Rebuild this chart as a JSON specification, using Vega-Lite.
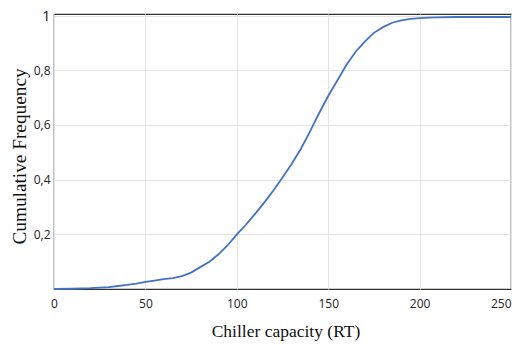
{
  "$schema": "https://vega.github.io/schema/vega-lite/v6.json",
  "width": 457,
  "height": 275,
  "autosize": {"type": "none"},
  "padding": {"left": 54, "top": 14, "right": 9, "bottom": 56},
  "background": "white",
  "config": {
    "view": {"stroke": "#333333", "strokeWidth": 1.2},
    "axis": {
      "labelFont": "Open Sans",
      "labelFontSize": 12,
      "labelColor": "#222222",
      "titleFont": "Liberation Serif",
      "titleFontSize": 17,
      "titleFontWeight": "normal",
      "titleColor": "#111111",
      "gridColor": "#e3e3e3",
      "gridWidth": 1,
      "ticks": false,
      "domain": false
    }
  },
  "data": {
    "values": [
      {"capacity": 0, "freq": 0},
      {"capacity": 10, "freq": 0.001},
      {"capacity": 20, "freq": 0.003},
      {"capacity": 25, "freq": 0.005},
      {"capacity": 30, "freq": 0.007},
      {"capacity": 35, "freq": 0.011},
      {"capacity": 40, "freq": 0.015},
      {"capacity": 45, "freq": 0.02},
      {"capacity": 50, "freq": 0.026},
      {"capacity": 55, "freq": 0.031},
      {"capacity": 60, "freq": 0.036},
      {"capacity": 65, "freq": 0.04},
      {"capacity": 70, "freq": 0.047},
      {"capacity": 75, "freq": 0.06},
      {"capacity": 80, "freq": 0.08},
      {"capacity": 85, "freq": 0.1},
      {"capacity": 90, "freq": 0.127},
      {"capacity": 95, "freq": 0.16},
      {"capacity": 100, "freq": 0.2},
      {"capacity": 105, "freq": 0.235},
      {"capacity": 110, "freq": 0.275},
      {"capacity": 115, "freq": 0.316},
      {"capacity": 120, "freq": 0.36},
      {"capacity": 125, "freq": 0.408},
      {"capacity": 130, "freq": 0.457},
      {"capacity": 135, "freq": 0.512},
      {"capacity": 140, "freq": 0.576},
      {"capacity": 145, "freq": 0.643},
      {"capacity": 150, "freq": 0.706},
      {"capacity": 155, "freq": 0.763},
      {"capacity": 160, "freq": 0.82},
      {"capacity": 165, "freq": 0.868},
      {"capacity": 170, "freq": 0.905},
      {"capacity": 175, "freq": 0.937},
      {"capacity": 180, "freq": 0.958},
      {"capacity": 185, "freq": 0.974},
      {"capacity": 190, "freq": 0.983},
      {"capacity": 195, "freq": 0.988},
      {"capacity": 200, "freq": 0.991},
      {"capacity": 205, "freq": 0.993},
      {"capacity": 210, "freq": 0.994},
      {"capacity": 220, "freq": 0.995},
      {"capacity": 250, "freq": 0.995}
    ]
  },
  "mark": {"type": "line", "color": "#4472C4", "strokeWidth": 1.8},
  "encoding": {
    "x": {
      "field": "capacity",
      "type": "quantitative",
      "scale": {"domain": [0, 250], "nice": false},
      "axis": {
        "values": [0, 50, 100, 150, 200, 250],
        "title": "Chiller capacity (RT)",
        "labelFlush": false,
        "labelOverlap": false,
        "labelPadding": 9,
        "labelBaseline": "top",
        "labelAlign": {"condition": {"test": "datum.value == 250", "value": "right"}, "value": "center"},
        "labelDx": {"condition": {"test": "datum.value == 250", "value": 9}, "value": 0},
        "titleFontSize": 17.5,
        "titleX": 231.5,
        "titleY": 42,
        "titleBaseline": "middle",
        "titleAlign": "center"
      }
    },
    "y": {
      "field": "freq",
      "type": "quantitative",
      "scale": {"domain": [0, 1.006], "nice": false},
      "axis": {
        "values": [0.2, 0.4, 0.6, 0.8, 1],
        "title": "Cumulative Frequency",
        "labelFlush": false,
        "labelOverlap": false,
        "labelPadding": 4,
        "labelExpr": "datum.value == 1 ? '1' : replace(format(datum.value, '.1f'), '.', ',')",
        "labelFontSize": {"condition": {"test": "datum.value == 1", "value": 15}, "value": 12},
        "titleFontSize": 19.3,
        "titleX": -35,
        "titleY": 142,
        "titleAngle": -90,
        "titleBaseline": "middle",
        "titleAlign": "center"
      }
    }
  }
}
